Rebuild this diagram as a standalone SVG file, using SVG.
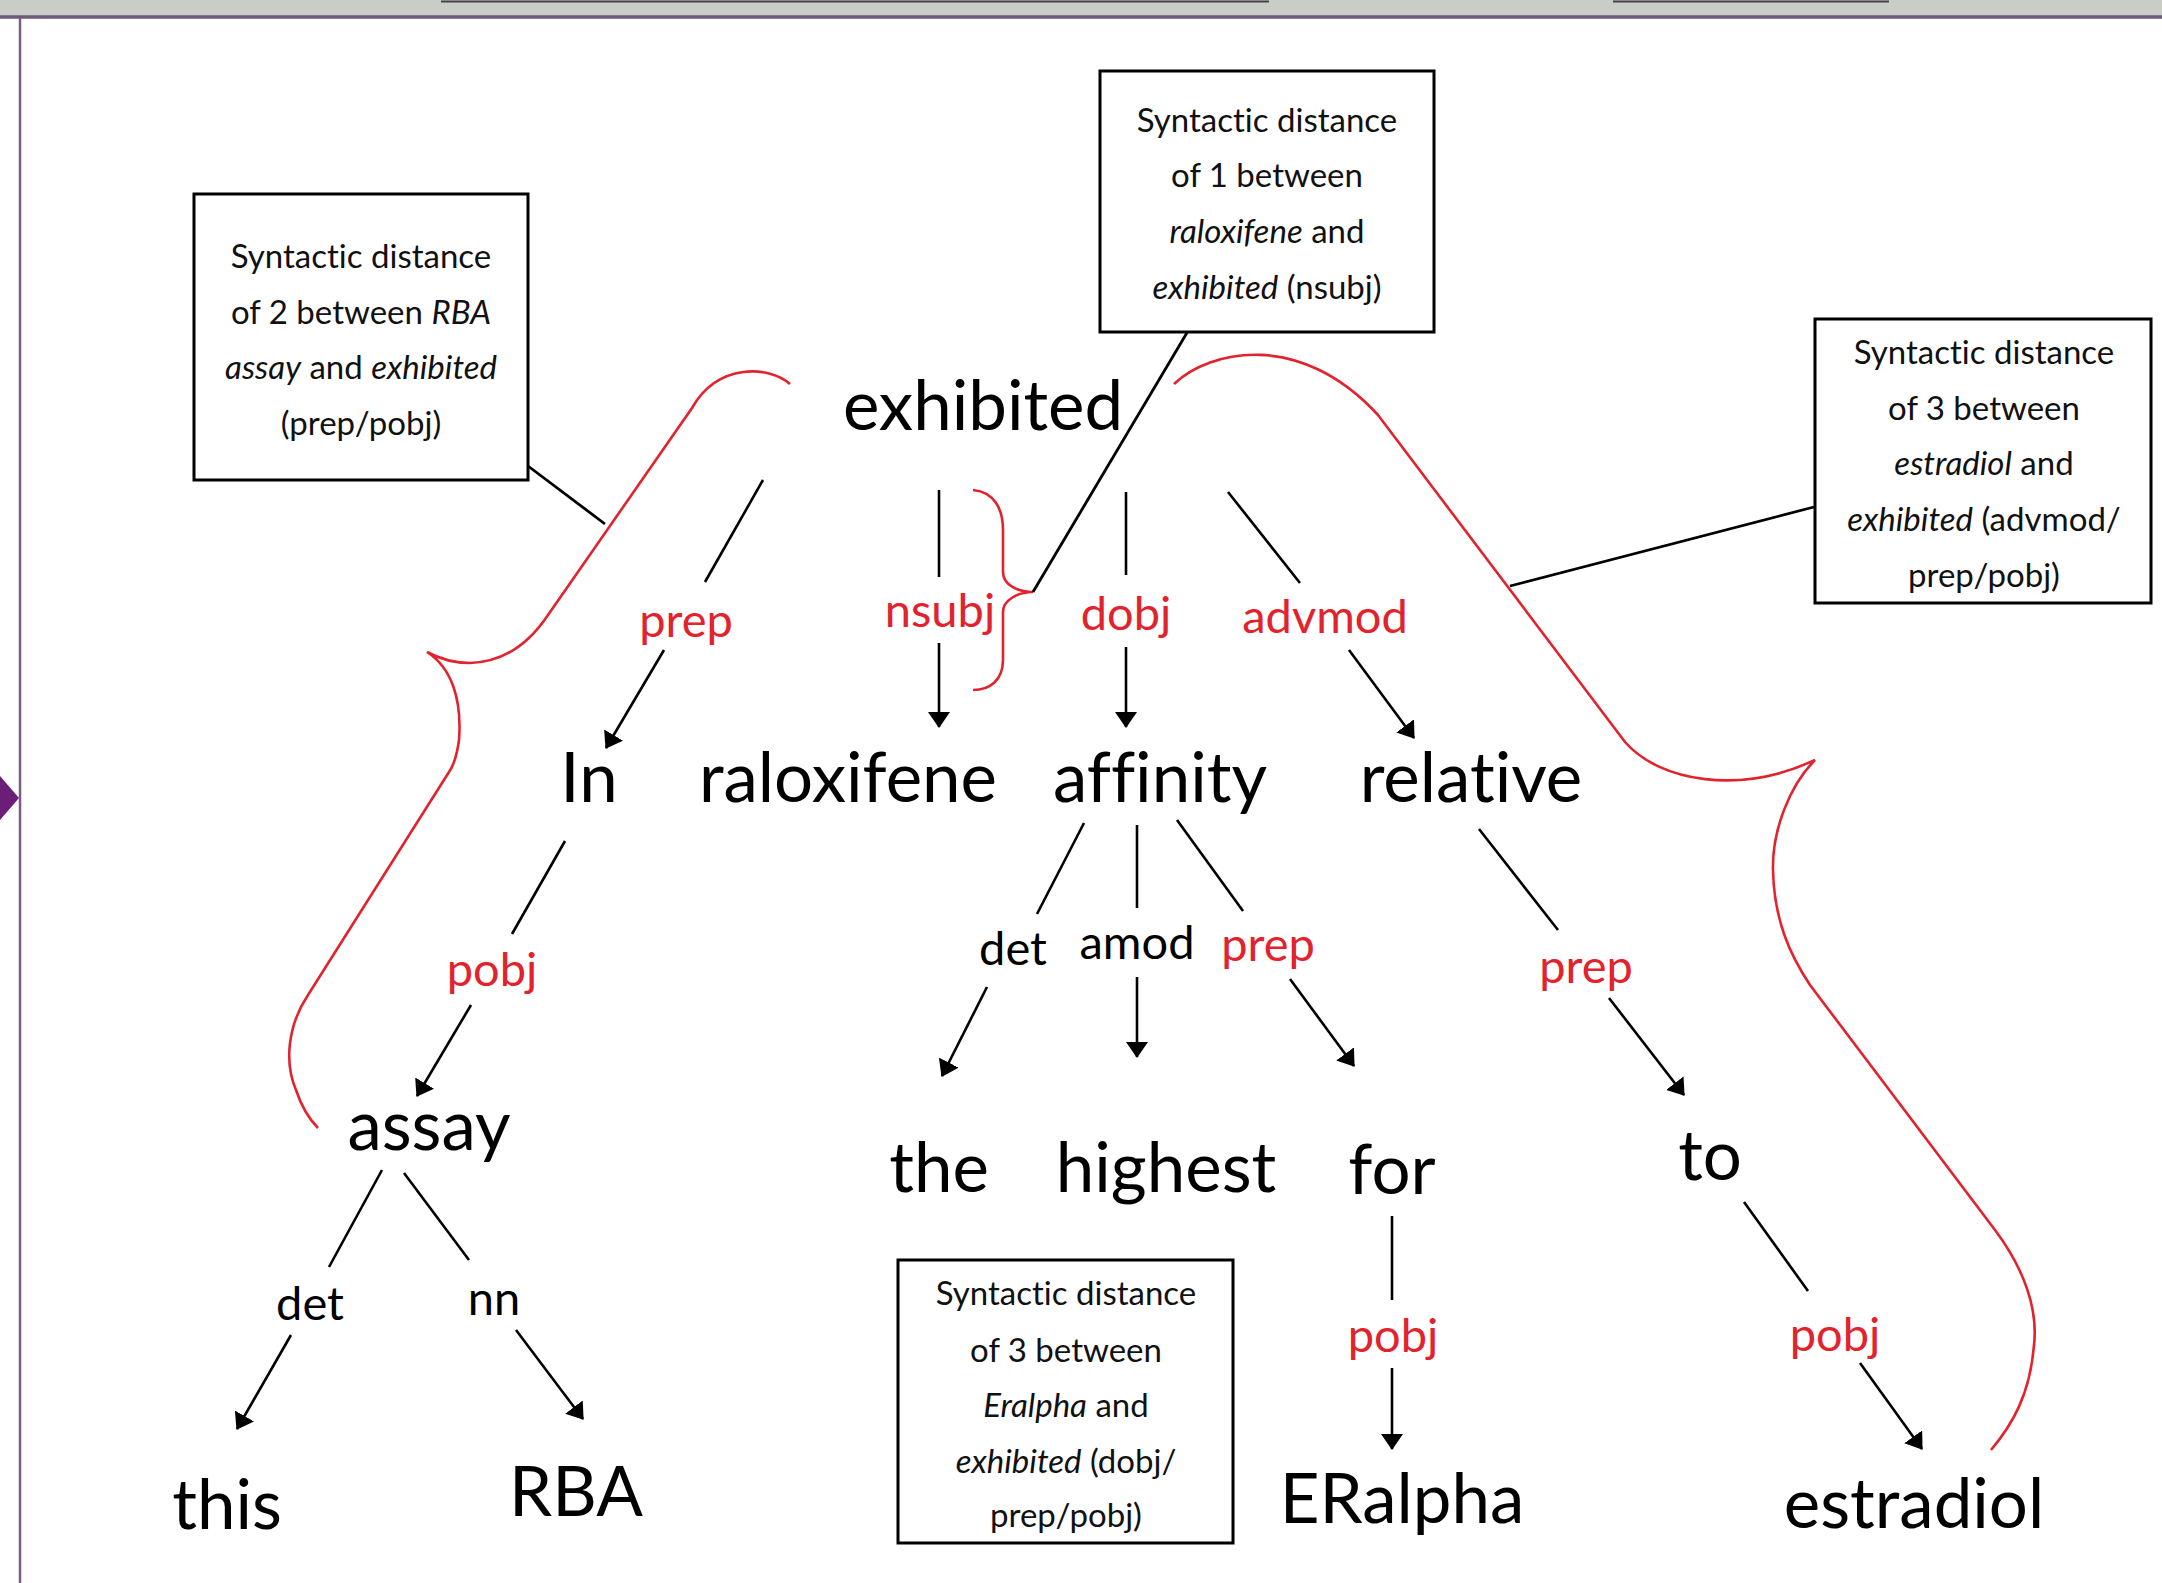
<svg xmlns="http://www.w3.org/2000/svg" width="2162" height="1583" viewBox="0 0 2162 1583">
<defs>
<style>
text{font-variant-ligatures:none}
.w{font-family:Lato,"Liberation Sans",sans-serif;font-size:69px;fill:#000;text-anchor:middle}
.l{font-family:Lato,"Liberation Sans",sans-serif;font-size:47px;text-anchor:middle}
.r{fill:#e2222c}
.k{fill:#000}
.bt{font-family:Lato,"Liberation Sans",sans-serif;font-size:33px;fill:#111;text-anchor:middle}
.box{fill:#fff;stroke:#000;stroke-width:3}
.e{stroke:#000;stroke-width:2.6;fill:none}
.a{marker-end:url(#arr)}
.br{stroke:#e2222c;stroke-width:2.6;fill:none}
.c{stroke:#000;stroke-width:2.8;fill:none}
</style>
<marker id="arr" viewBox="0 0 16 22" refX="15" refY="11" markerWidth="16" markerHeight="22" markerUnits="userSpaceOnUse" orient="auto">
<path d="M0,0 L16,11 L0,22 z" fill="#000"/>
</marker>
</defs>
<rect width="2162" height="1583" fill="#fff"/>
<g id="frame">
<rect x="0" y="0" width="2162" height="16" fill="#c9cdc8"/>
<line x1="0" y1="17" x2="2162" y2="17" stroke="#6d5a78" stroke-width="3.5"/>
<line x1="441" y1="1.5" x2="1269" y2="1.5" stroke="#444" stroke-width="2"/>
<line x1="1613" y1="1.5" x2="1889" y2="1.5" stroke="#444" stroke-width="2"/>
<line x1="20" y1="18" x2="20" y2="1583" stroke="#7b5a86" stroke-width="2.5"/>
<polygon points="0,776 19,798 0,820" fill="#6c1d78"/>
</g>
<g id="connectors">
<path class="e" d="M763,480 L705,582"/>
<path class="e a" d="M664,650 L606,748"/>
<path class="e" d="M939,490 L939,577"/>
<path class="e a" d="M939,643 L939,727"/>
<path class="e" d="M1126,492 L1126,575"/>
<path class="e a" d="M1126,647 L1126,727"/>
<path class="e" d="M1228,492 L1300,583"/>
<path class="e a" d="M1349,650 L1414,738"/>
<path class="e" d="M565,841 L512,934"/>
<path class="e a" d="M471,1005 L417,1096"/>
<path class="e" d="M1084,823 L1037,914"/>
<path class="e a" d="M987,987 L942,1076"/>
<path class="e" d="M1137,825 L1137,908"/>
<path class="e a" d="M1137,977 L1137,1057"/>
<path class="e" d="M1177,820 L1243,911"/>
<path class="e a" d="M1290,979 L1354,1066"/>
<path class="e" d="M1479,829 L1558,930"/>
<path class="e a" d="M1609,998 L1684,1095"/>
<path class="e" d="M382,1170 L329,1267"/>
<path class="e a" d="M291,1335 L237,1429"/>
<path class="e" d="M404,1173 L469,1260"/>
<path class="e a" d="M516,1330 L583,1419"/>
<path class="e" d="M1392,1216 L1392,1300"/>
<path class="e a" d="M1392,1368 L1392,1449"/>
<path class="e" d="M1744,1202 L1808,1291"/>
<path class="e a" d="M1860,1363 L1922,1449"/>
</g>
<g id="braces">
<path class="br" d="M790,384 C770,366 718,362 692,408 L548,615 C530,642 505,662 470,663 C455,663 440,659 427,652 C452,668 462,700 459,740 C457,755 454,765 449,772 L308,995 C288,1025 284,1062 296,1090 C302,1108 310,1120 318,1128"/>
<path class="br" d="M973,490 C995,492 1003,510 1003,530 L1003,572 C1003,585 1018,592 1033,592 C1018,592 1003,600 1003,612 L1003,660 C1003,680 990,690 973,690"/>
<path class="br" d="M1174,384 C1210,350 1300,330 1378,415 L1625,742 C1660,782 1740,795 1815,760 C1790,785 1772,830 1773,870 C1774,920 1790,955 1810,985 L1995,1230 C2025,1270 2038,1310 2034,1345 C2030,1395 2012,1425 1991,1450"/>
</g>
<g id="callout-lines">
<path class="c" d="M528,466 L605,524"/>
<path class="c" d="M1188,331 L1033,592"/>
<path class="c" d="M1814,507 L1510,586"/>
</g>
<g id="box-rba">
<rect class="box" x="194" y="194" width="334" height="286"/>
<text class="bt" x="361" y="268">Syntactic distance</text>
<text class="bt" x="361" y="324">of 2 between <tspan font-style="italic">RBA</tspan></text>
<text class="bt" x="361" y="379"><tspan font-style="italic">assay</tspan> and <tspan font-style="italic">exhibited</tspan></text>
<text class="bt" x="361" y="435">(prep/pobj)</text>
</g>
<g id="box-raloxifene">
<rect class="box" x="1100" y="71" width="334" height="261"/>
<text class="bt" x="1267" y="132">Syntactic distance</text>
<text class="bt" x="1267" y="187">of 1 between</text>
<text class="bt" x="1267" y="243"><tspan font-style="italic">raloxifene</tspan> and</text>
<text class="bt" x="1267" y="299"><tspan font-style="italic">exhibited</tspan> (nsubj)</text>
</g>
<g id="box-estradiol">
<rect class="box" x="1815" y="319" width="336" height="284"/>
<text class="bt" x="1984" y="364">Syntactic distance</text>
<text class="bt" x="1984" y="420">of 3 between</text>
<text class="bt" x="1984" y="475"><tspan font-style="italic">estradiol</tspan> and</text>
<text class="bt" x="1984" y="531"><tspan font-style="italic">exhibited</tspan> (advmod/</text>
<text class="bt" x="1984" y="587">prep/pobj)</text>
</g>
<g id="box-eralpha">
<rect class="box" x="898" y="1260" width="335" height="283"/>
<text class="bt" x="1066" y="1305">Syntactic distance</text>
<text class="bt" x="1066" y="1362">of 3 between</text>
<text class="bt" x="1066" y="1417"><tspan font-style="italic">Eralpha</tspan> and</text>
<text class="bt" x="1066" y="1473"><tspan font-style="italic">exhibited</tspan> (dobj/</text>
<text class="bt" x="1066" y="1527">prep/pobj)</text>
</g>
<g id="n-exhibited"><text class="w" x="983" y="430">exhibited</text></g>
<g id="n-in"><text class="w" x="589" y="802">In</text></g>
<g id="n-raloxifene"><text class="w" x="848" y="802">raloxifene</text></g>
<g id="n-affinity"><text class="w" x="1160" y="802">affinity</text></g>
<g id="n-relative"><text class="w" x="1471" y="802">relative</text></g>
<g id="n-assay"><text class="w" x="429" y="1150">assay</text></g>
<g id="n-the"><text class="w" x="939" y="1192">the</text></g>
<g id="n-highest"><text class="w" x="1166" y="1192">highest</text></g>
<g id="n-for"><text class="w" x="1392" y="1194">for</text></g>
<g id="n-to"><text class="w" x="1710" y="1180">to</text></g>
<g id="n-this"><text class="w" x="227" y="1529">this</text></g>
<g id="n-rba"><text class="w" x="576" y="1516">RBA</text></g>
<g id="n-eralpha"><text class="w" x="1402" y="1523">ERalpha</text></g>
<g id="n-estradiol"><text class="w" x="1914" y="1528">estradiol</text></g>
<g id="edge-labels">
<text class="l r" x="686" y="637">prep</text>
<text class="l r" x="940" y="627">nsubj</text>
<text class="l r" x="1126" y="630">dobj</text>
<text class="l r" x="1325" y="633">advmod</text>
<text class="l r" x="492" y="986">pobj</text>
<text class="l k" x="1013" y="965">det</text>
<text class="l k" x="1137" y="959">amod</text>
<text class="l r" x="1268" y="961">prep</text>
<text class="l r" x="1586" y="983">prep</text>
<text class="l k" x="310" y="1320">det</text>
<text class="l k" x="494" y="1315">nn</text>
<text class="l r" x="1393" y="1352">pobj</text>
<text class="l r" x="1835" y="1351">pobj</text>
</g>
</svg>
